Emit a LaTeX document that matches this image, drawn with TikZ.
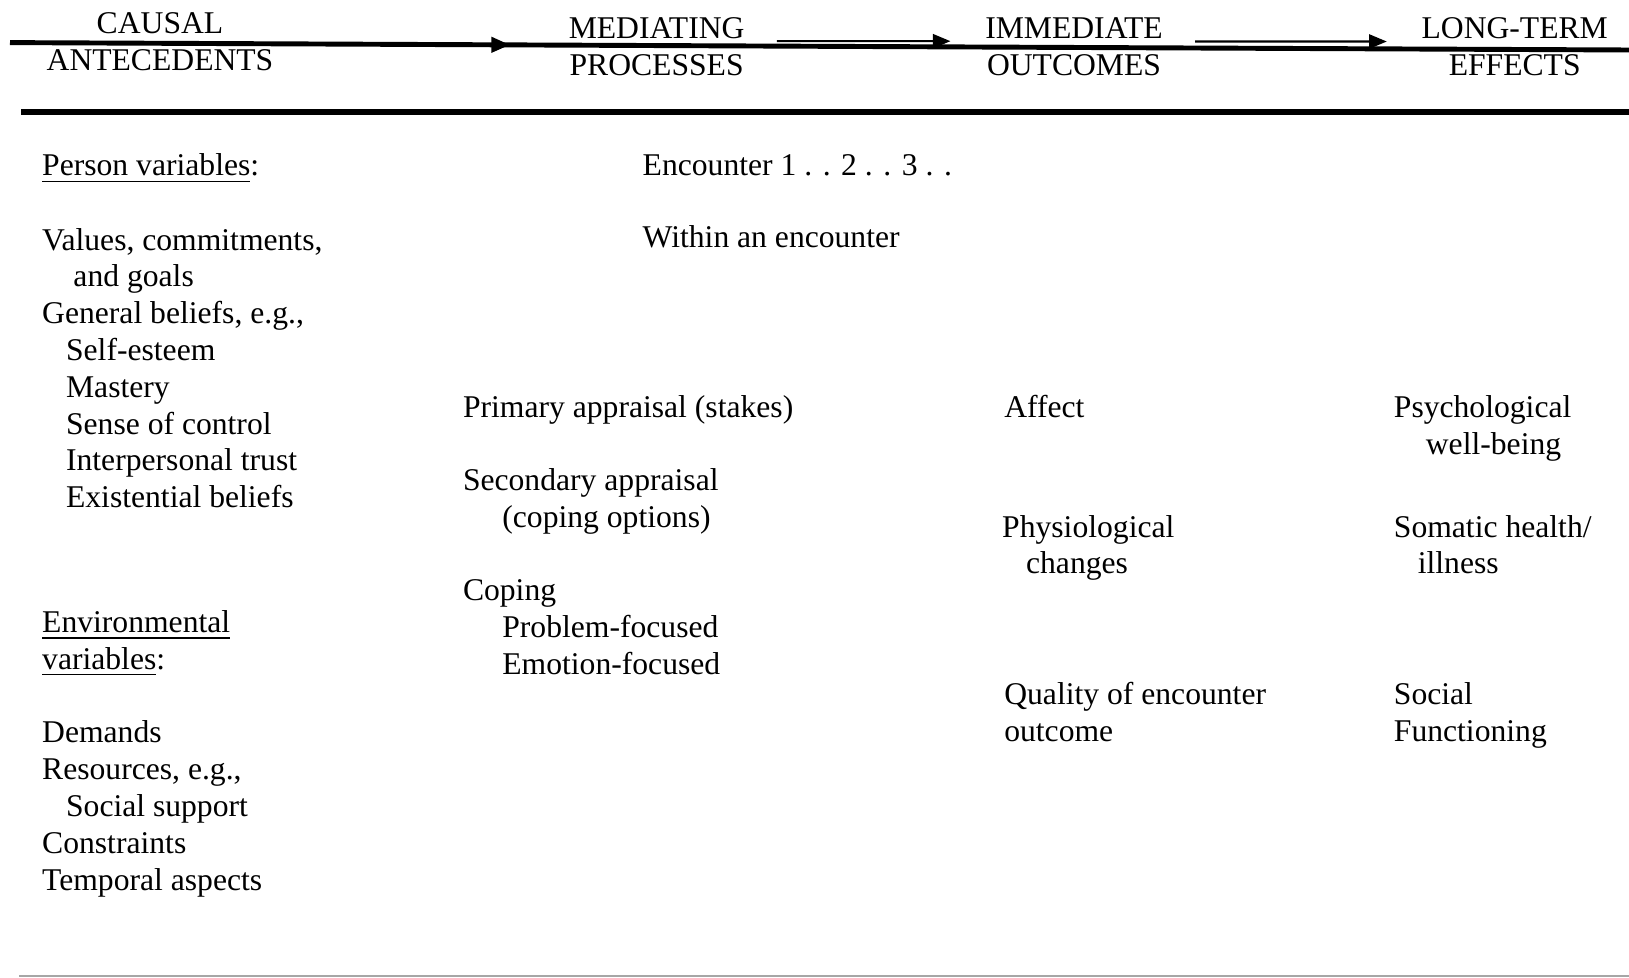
\documentclass[tikz,border=0pt]{standalone}
\usepackage{fontspec}
\setmainfont{Liberation Serif}
\usetikzlibrary{arrows.meta,decorations.markings}

\begin{document}
\begin{tikzpicture}[x=0.1mm,y=-0.1mm,
  every node/.style={font=\fontsize{9}{10.47}\selectfont,inner sep=0pt},
  hdr/.style={align=center,anchor=base},
  txt/.style={align=left,anchor=base west},
  arr/.style={-{Triangle[length=5pt,width=4pt]},line width=0.6pt,shorten <=9pt,shorten >=9.7pt}]
\useasboundingbox (0,0) rectangle (1629,978);

% header (base = last line)
\node[hdr] (cause) at (160,70.6) {CAUSAL\\ANTECEDENTS};
\node[hdr] (med) at (656.6,75.5) {MEDIATING\\PROCESSES};
\node[hdr] (imm) at (1074,75.5) {IMMEDIATE\\OUTCOMES};
\node[hdr] (long) at (1514.7,75.5) {LONG-TERM\\EFFECTS};

\coordinate (lineW) at (10,42.6);
\coordinate (lineE) at (1629,50);
\draw[line width=1.4pt,postaction={decorate},
  decoration={markings,mark=at position 0.309 with {\arrow{Triangle[length=5.4pt,width=4.2pt]}}}]
  (lineW) -- (lineE);
\draw[arr] ([yshift=1.6pt]med.east) -- ([yshift=1.6pt]imm.west);
\draw[arr] ([yshift=1.5pt]imm.east) -- ([yshift=1.5pt]long.west);
\draw[line width=1.7pt] (21,112) -- (1629,112);

% causal antecedents
\node[txt] (person) at (41.5,176) {\underline{Person variables}:};
\node[txt] (values) at (41.5,507.6) {Values, commitments,\\
  \hspace*{8.9pt}and goals\\
  General beliefs, e.g.,\\
  \hspace*{6.8pt}Self-esteem\\
  \hspace*{6.8pt}Mastery\\
  \hspace*{6.8pt}Sense of control\\
  \hspace*{6.8pt}Interpersonal trust\\
  \hspace*{6.8pt}Existential beliefs};
\node[txt] (envir) at (41.5,669.4) {\underline{Environmental}\\\underline{variables}:};
\node[txt] (demands) at (41.5,890) {Demands\\
  Resources, e.g.,\\
  \hspace*{6.8pt}Social support\\
  Constraints\\
  Temporal aspects};

% mediating processes
\node[txt] (enc) at (642,176) {Encounter 1 . . 2 . . 3 . .};
\node[txt] (within) at (642,248) {Within an encounter};
\node[txt] (primary) at (462.3,417) {Primary appraisal (stakes)};
\node[txt] (secondary) at (462.3,527) {Secondary appraisal\\\hspace*{11.2pt}(coping options)};
\node[txt] (coping) at (462.3,674) {Coping\\\hspace*{11.2pt}Problem-focused\\\hspace*{11.2pt}Emotion-focused};

% immediate outcomes
\node[txt] (affect) at (1003.6,417) {Affect};
\node[txt] (physio) at (1001.5,573.8) {Physiological\\\hspace*{6.8pt}changes};
\node[txt] (quality) at (1003.6,741) {Quality of encounter\\outcome};

% long-term effects
\node[txt] (psych) at (1393.2,454.5) {Psychological\\\hspace*{9.1pt}well-being};
\node[txt] (somatic) at (1393.2,573.8) {Somatic health/\\\hspace*{6.8pt}illness};
\node[txt] (social) at (1393.2,741) {Social\\Functioning};

\draw[gray!70,line width=0.6pt] (19,976) -- (1629,976);
\end{tikzpicture}
\end{document}
